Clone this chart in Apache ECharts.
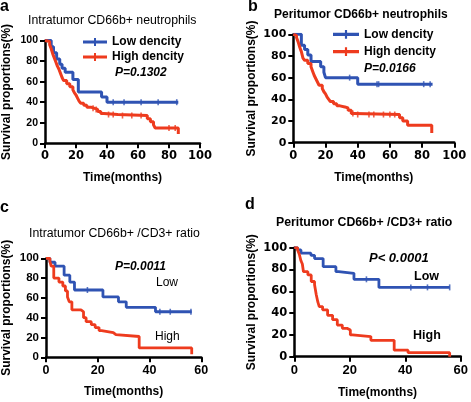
<!DOCTYPE html>
<html><head><meta charset="utf-8">
<script src="https://cdn.jsdelivr.net/npm/echarts@6/dist/echarts.min.js"></script>
<style>html,body{margin:0;padding:0;background:#fff}#c{width:471px;height:402px}</style>
</head><body><div id="c"></div>
<script>
const FONT = '"Liberation Sans", Arial, Helvetica, sans-serif';
const WIDE = '"DejaVu Sans", Verdana, sans-serif';
const BLUE = '#2f53b3', RED = '#ee3b1e';

// tick labels
const yTicks = [0, 20, 40, 60, 80, 100];
const xTicksLong = [0, 20, 40, 60, 80, 100];
const xTicksShort = [0, 20, 40, 60];

// Panel a: Intratumor CD66b+ neutrophils  [time, survival %]
const aLow = [[0,100],[4,94],[5.5,88],[7.5,82],[9.5,77],[11,73],[13,69],[18,62],[21.5,50],[36.5,45],[40,40],[86,40]];
const aHigh = [[0,100],[1,99],[3,96],[4,92],[5,87],[6,83],[7,79],[8,75],[9,72],[10,68],[11,64],[12,61],[14,58],[16,55],[18,52],[19,49],[20,47],[21,44],[22,41],[23,39],[25,37],[27,35],[30,34],[32,33],[34,31],[36,29],[38,28],[47,27],[66,24],[68,21],[70,18],[71,15],[86,9]];
const aLowCens = [44, 51, 62, 73, 85];
const aHighCens = [31, 33, 41, 44, 50, 56, 62, 80, 84];

// Panel b: Peritumor CD66b+ neutrophils
const bLow = [[0,100],[5,90],[7,86],[9,81],[11,75],[17,70],[19,65],[20,60],[40,54],[86.5,54]];
const bHigh = [[0,100],[1,99],[2,97],[3,93],[4,88],[5,84],[6,78],[7,76],[9,73],[11,70],[12,66],[13,62],[14,59],[15,56],[16,53],[18,50],[19,47],[20,45],[21,42],[22,40],[23,38],[25,36],[27,34],[29,33],[32,32],[34,30],[36,27],[38,26],[66,23],[68,20],[71,16],[86,9]];
const bLowCens = [35, 52, 53, 81, 85];
const bHighCens = [37, 40, 47, 50, 56, 60, 63];

// Panel c: Intratumor CD66b+ /CD3+ ratio
const cLow = [[0,100],[1.5,96],[3.5,92],[7,83],[9.2,76],[11,68],[22,61],[28,56],[31,50.5],[42.3,46],[56.3,46]];
const cHigh = [[0,100],[1.5,97],[2,92],[3,80],[5,76],[6.5,72],[7.5,67],[8.3,61],[9,56],[10,48],[13.5,46],[14.5,40],[15.5,36],[17.5,33],[19,30],[20.5,27],[21.5,25],[26,23],[27,21],[36,9.5],[56.3,3]];
const cLowCens = [16, 44, 48, 56];
const cHighCens = [];

// Panel d: Peritumor CD66b+ /CD3+ ratio
const dLow = [[0,100],[1.2,98],[2.4,95],[6,93],[7.3,90],[10.4,82.6],[15,78],[16,76.5],[21.5,71],[30.5,63.6],[56,63.6]];
const dHigh = [[0,100],[1.2,98],[1.8,94],[2.4,88],[2.9,85],[3.3,78],[4.9,75],[6.1,69],[7.3,66],[7.9,57],[8.5,50],[9,46],[10.2,43],[12,38],[13.8,34],[15.5,29],[17.3,26],[19,24.5],[20.2,20],[21,18.5],[27.6,15],[36,6],[41,3.7],[56,0]];
const dLowCens = [26, 42, 48, 56];
const dHighCens = [];

function survAt(curve, t) { let v = curve[0][1]; for (const [tt, s] of curve) if (tt <= t) v = s; return v; }

const panels = [
  {g:{left:44.3, top:40.5, width:155.7, height:102.8}, xt:xTicksLong, low:aLow, high:aHigh, lc:aLowCens, hc:aHighCens, yGap:32, xGap:28, lw:3,
   yl:{fontFamily:FONT, fontSize:10.5}, xl:{fontFamily:WIDE, fontSize:11.5}},
  {g:{left:293.3, top:34.3, width:161, height:108.4}, xt:xTicksLong, low:bLow, high:bHigh, lc:bLowCens, hc:bHighCens, yGap:36, xGap:29, lw:3,
   yl:{fontFamily:WIDE, fontSize:11}, xl:{fontFamily:WIDE, fontSize:11.5}},
  {g:{left:44.3, top:258.3, width:157, height:99}, xt:xTicksShort, low:cLow, high:cHigh, lc:cLowCens, hc:cHighCens, yGap:33, xGap:28, lw:2.8,
   yl:{fontFamily:FONT, fontSize:11.5}, xl:{fontFamily:FONT, fontSize:12.5}},
  {g:{left:294.3, top:247.7, width:170, height:109}, xt:xTicksShort, low:dLow, high:dHigh, lc:dLowCens, hc:dHighCens, yGap:37, xGap:30, lw:2.8,
   yl:{fontFamily:WIDE, fontSize:11.5}, xl:{fontFamily:FONT, fontSize:13}}
];

const grid = [], xAxis = [], yAxis = [], series = [];
const axisLine = {show:true, onZero:false, lineStyle:{color:'#000', width:2.5}};
const axisTick = {show:true, inside:false, length:5, lineStyle:{color:'#000', width:2}};
panels.forEach((p, i) => {
  grid.push(Object.assign({containLabel:false}, p.g));
  xAxis.push({type:'value', gridIndex:i, min:p.xt[0], max:p.xt[p.xt.length-1], interval:p.xt[1]-p.xt[0],
    axisLine, axisTick, splitLine:{show:false},
    axisLabel:Object.assign({color:'#000', fontWeight:'bold', margin:7}, p.xl),
    name:'Time(months)', nameLocation:'middle', nameGap:p.xGap,
    nameTextStyle:{color:'#000', fontFamily:FONT, fontWeight:'bold', fontSize:12}});
  yAxis.push({type:'value', gridIndex:i, min:yTicks[0], max:yTicks[yTicks.length-1], interval:yTicks[1]-yTicks[0],
    axisLine, axisTick, splitLine:{show:false},
    axisLabel:Object.assign({color:'#000', fontWeight:'bold', margin:7}, p.yl),
    name:'Survival proportions(%)', nameLocation:'middle', nameGap:p.yGap,
    nameTextStyle:{color:'#000', fontFamily:FONT, fontWeight:'bold', fontSize:12}});
  const mk = (name, data, color, cens) => {
    series.push({type:'line', name, xAxisIndex:i, yAxisIndex:i, data, step:'end',
      symbol:'none', silent:true, animation:false,
      lineStyle:{color, width:p.lw}, itemStyle:{color}});
    if (cens.length) series.push({type:'scatter', xAxisIndex:i, yAxisIndex:i, silent:true, animation:false,
      symbol:'rect', symbolSize:[1.6,6], itemStyle:{color},
      data: cens.map(t => [t, survAt(data, t)])});
  };
  const names = i < 2 ? ['Low dencity','High dencity'] : ['Low','High'];
  mk(names[0], p.low, BLUE, p.lc);
  mk(names[1], p.high, RED, p.hc);
});

function txt(text, x, y, font, align) {
  return {type:'text', x, y, silent:true, style:{text, font, fill:'#000', align:align||'left', verticalAlign:'middle', textAlign:align||'left', textVerticalAlign:'middle'}};
}
const graphic = [
  txt('a', 0, 7, 'bold 16px ' + FONT),
  txt('b', 248, 7, 'bold 16px ' + FONT),
  txt('c', 0, 208, 'bold 16px ' + FONT),
  txt('d', 245, 205, 'bold 16px ' + FONT),
  txt('Intratumor CD66b+ neutrophils', 28, 21, '12.3px ' + FONT),
  txt('Peritumor CD66b+ neutrophils', 274, 15, 'bold 12px ' + FONT),
  txt('Intratumor CD66b+ /CD3+ ratio', 29, 234, '12.3px ' + FONT),
  txt('Peritumor CD66b+ /CD3+ ratio', 276, 223, 'bold 12.3px ' + FONT),
  txt('P=0.1302', 115, 73, 'italic bold 12px ' + FONT),
  txt('P=0.0166', 364, 69, 'italic bold 12px ' + FONT),
  txt('P=0.0011', 115, 267, 'italic bold 12px ' + FONT),
  txt('P< 0.0001', 369, 258, 'italic bold 13px ' + FONT),
  txt('Low', 156, 283, '12px ' + FONT),
  txt('High', 155, 337, '12px ' + FONT),
  txt('Low', 414, 277, 'bold 12.5px ' + FONT),
  txt('High', 413, 336, 'bold 12.5px ' + FONT)
];

const ICON = 'path://M0,3.5 H24 V6.5 H0 Z M11,1 H13 V9 H11 Z';
const legendText = {color:'#000', fontFamily:FONT, fontWeight:'bold', fontSize:12};
const legend = [
  {left:83, top:34.5, padding:0, orient:'vertical', itemWidth:24, itemHeight:10, itemGap:0, selectedMode:false,
   data:[{name:'Low dencity', icon:ICON},{name:'High dencity', icon:ICON}], textStyle:Object.assign({lineHeight:15}, legendText)},
  {left:333, top:25.6, padding:0, orient:'vertical', itemWidth:26, itemHeight:10, itemGap:0, selectedMode:false,
   data:[{name:'Low dencity', icon:ICON},{name:'High dencity', icon:ICON}], textStyle:Object.assign({lineHeight:17.4}, legendText)}
];

const chart = echarts.init(document.getElementById('c'), null, {renderer:'canvas'});
chart.setOption({animation:false, backgroundColor:'#fff', grid, xAxis, yAxis, series, legend, graphic});
</script></body></html>
